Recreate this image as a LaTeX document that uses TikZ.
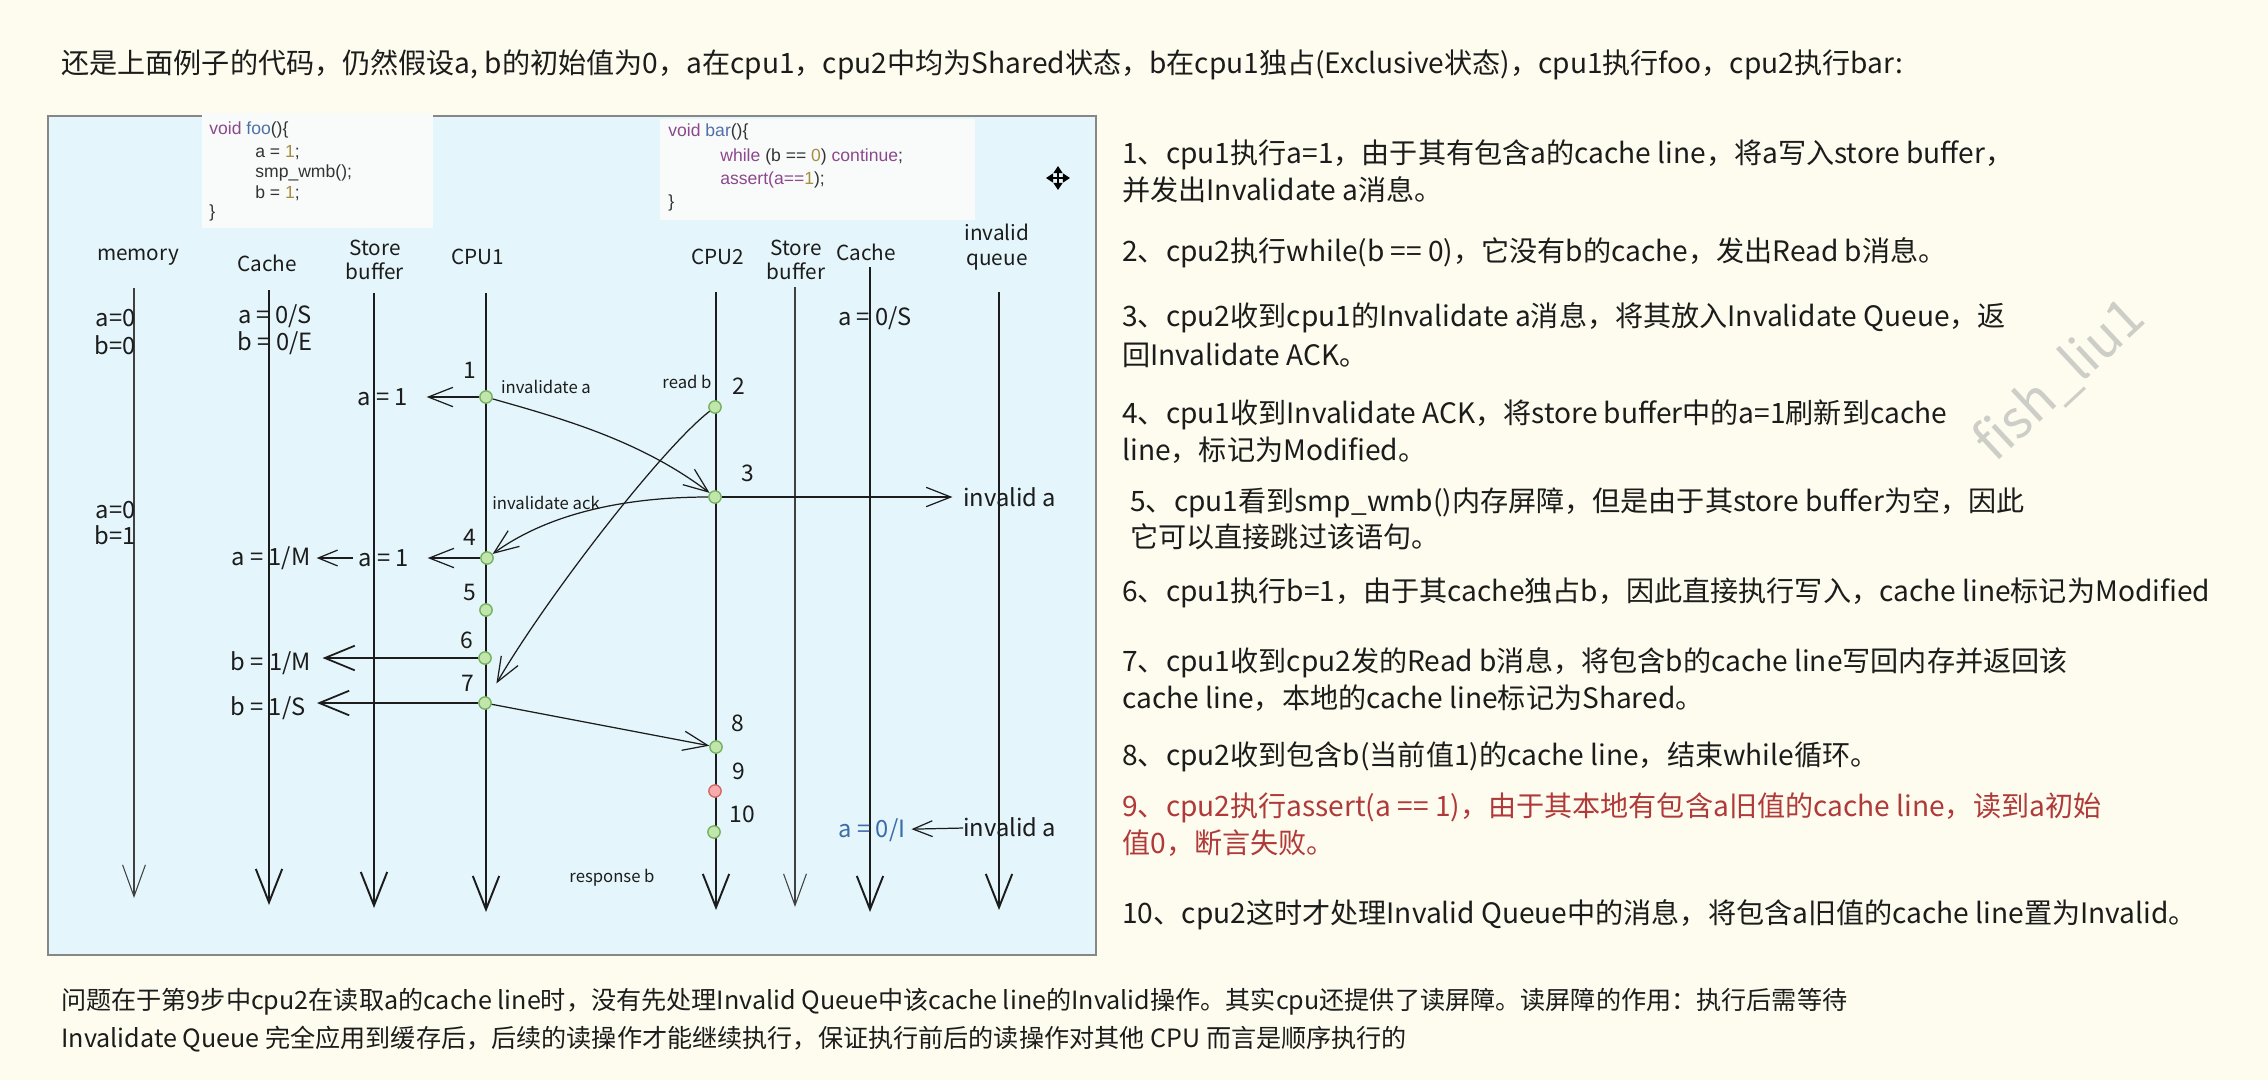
\documentclass[tikz,border=0pt]{standalone}
\usepackage{fontspec}
\setmainfont{Noto Sans CJK SC}
\newfontfamily\codefont{Liberation Sans}
\usetikzlibrary{arrows.meta,positioning,calc}

\definecolor{pagebg}{RGB}{254,252,238}
\definecolor{boardbg}{RGB}{228,246,251}
\definecolor{boardline}{RGB}{135,135,135}
\definecolor{codebg}{RGB}{249,251,251}
\definecolor{kwcol}{RGB}{140,72,140}
\definecolor{fncol}{RGB}{78,112,168}
\definecolor{numcol}{RGB}{165,142,60}
\definecolor{ink}{RGB}{28,28,28}
\definecolor{dotgreen}{RGB}{192,230,172}
\definecolor{dotgreenline}{RGB}{118,178,98}
\definecolor{dotred}{RGB}{246,172,172}
\definecolor{dotredline}{RGB}{214,104,104}
\definecolor{invalblue}{RGB}{58,108,168}
\definecolor{failred}{RGB}{176,58,58}
\definecolor{markgray}{RGB}{206,206,200}

\begin{document}
\begin{tikzpicture}[x=0.02cm,y=-0.02cm,
    every node/.style={text=ink},
    lane/.style={line width=1.1pt,draw=ink,-{Straight Barb[length=19pt,width=15pt,line width=1.1pt]}},
    thinlane/.style={line width=0.6pt,draw=black!75,-{Straight Barb[length=18pt,width=13pt,line width=0.6pt]}},
    msg/.style={line width=0.7pt,draw=ink,-{Straight Barb[length=14pt,width=11pt,line width=0.7pt]}},
    shortmsg/.style={line width=0.7pt,draw=ink,-{Straight Barb[length=11pt,width=9pt,line width=0.7pt]}},
    boldmsg/.style={line width=1.5pt,draw=ink,-{Straight Barb[length=17pt,width=14pt,line width=1pt]}},
    evdot/.style={circle,draw=dotgreenline,fill=dotgreen,line width=0.8pt,inner sep=0pt,minimum size=7pt},
    faildot/.style={evdot,draw=dotredline,fill=dotred},
    head/.style={font=\fontsize{11.8}{14}\selectfont,align=center},
    val/.style={font=\fontsize{13.5}{15}\selectfont},
    tag/.style={font=\fontsize{9.5}{11}\selectfont},
    stepno/.style={font=\fontsize{13}{15}\selectfont},
    code/.style={font=\codefont\fontsize{10}{12}\selectfont,anchor=west,inner sep=0pt,text=black!80},
    note/.style={font=\fontsize{16}{20}\selectfont,anchor=west,inner sep=0pt},
    outro/.style={font=\fontsize{14.3}{18}\selectfont,anchor=west,inner sep=0pt}]

% page and board
\fill[pagebg] (0,0) rectangle (2268,1080);
\filldraw[fill=boardbg,draw=boardline,line width=1pt] (48,116) rectangle (1096,955);

% code snippets
\fill[codebg] (202,113) rectangle (433,228);
\node[code] (fooHead) at (209,130) {\textcolor{kwcol}{void} \textcolor{fncol}{foo}()\{};
\node[code] (fooA) at (255,153) {a = \textcolor{numcol}{1};};
\node[code] (fooWmb) at (255,173) {smp\_wmb();};
\node[code] (fooB) at (255,193) {b = \textcolor{numcol}{1};};
\node[code] (fooEnd) at (209,213) {\}};

\fill[codebg] (660,119) rectangle (975,220);
\node[code] (barHead) at (668,132) {\textcolor{kwcol}{void} \textcolor{fncol}{bar}()\{};
\node[code] (barWhile) at (720,157) {\textcolor{kwcol}{while} (b == \textcolor{numcol}{0}) \textcolor{kwcol}{continue};};
\node[code] (barAssert) at (720,180) {\textcolor{kwcol}{assert(a==}\textcolor{numcol}{1});};
\node[code] (barEnd) at (668,203) {\}};

% move cursor
\draw[line width=1.1pt,{Triangle[length=4pt,width=5pt]}-{Triangle[length=4pt,width=5pt]}] (1046,178) -- (1070,178);
\draw[line width=1.1pt,{Triangle[length=4pt,width=5pt]}-{Triangle[length=4pt,width=5pt]}] (1058,166) -- (1058,190);

% lane headers
\node[head] (hMem) at (138,257) {memory};
\node[head] (hCacheA) at (267,263) {Cache};
\node[head] (hStoreA) at (375,260) {Store\\buffer};
\node[head] (hCpuA) at (478,257) {CPU1};
\node[head] (hCpuB) at (718,257) {CPU2};
\node[head] (hStoreB) at (796,260) {Store\\buffer};
\node[head] (hCacheB) at (866,252) {Cache};
\node[head] (hQueue) at (997,247) {invalid\\queue};

% lanes
\foreach \lx/\ty/\by/\ln/\ls in {134/288/898/mem/thinlane, 269/290/905/cacheA/lane,
    374/293/908/storeA/lane, 486/293/912/cpuA/lane, 716/292/910/cpuB/lane,
    795/287/907/storeB/thinlane, 870/267/912/cacheB/lane, 999/292/910/queue/lane}{
  \coordinate (\ln top) at (\lx,\ty);
  \coordinate (\ln bot) at (\lx,\by);
  \draw[\ls] (\ln top) -- (\ln bot);
}

% memory and cache values
\node[val,anchor=east,inner sep=0pt] (mA0) at (136,318) {a=0};
\node[val,anchor=east,inner sep=0pt] (mB0) at (136,345) {b=0};
\node[val,anchor=east,inner sep=0pt] (mA1) at (136,510) {a=0};
\node[val,anchor=east,inner sep=0pt] (mB1) at (136,535) {b=1};
\node[val] (cA0) at (275,316) {a = 0/S};
\node[val] (cB0) at (275,343) {b = 0/E};
\node[val] (ccA0) at (875,318) {a = 0/S};

% events on the cpu lanes
\node[evdot] (d1) at (486,397) {};
\node[evdot] (d2) at (715,407) {};
\node[evdot] (d3) at (715,497) {};
\node[evdot] (d4) at (487,558) {};
\node[evdot] (d5) at (486,610) {};
\node[evdot] (d6) at (485,658) {};
\node[evdot] (d7) at (485,703) {};
\node[evdot] (d8) at (716,747) {};
\node[faildot] (d9) at (715,791) {};
\node[evdot] (d10) at (714,832) {};

\node[stepno] (n1) at (470,370) {1};
\node[stepno] (n2) at (739,386) {2};
\node[stepno] (n3) at (748,473) {3};
\node[stepno] (n4) at (470,537) {4};
\node[stepno] (n5) at (470,592) {5};
\node[stepno] (n6) at (467,640) {6};
\node[stepno] (n7) at (468,683) {7};
\node[stepno] (n8) at (738,723) {8};
\node[stepno] (n9) at (739,771) {9};
\node[stepno] (n10) at (742,814) {10};

% message labels
\node[tag] (tInvA) at (546,387) {invalidate a};
\node[tag] (tReadB) at (687,382) {read b};
\node[tag] (tAck) at (546,503) {invalidate ack};
\node[tag] (tResp) at (612,878) {response b};
\node[val,anchor=west,inner sep=0pt] (qA) at (963,497) {invalid a};
\node[val,anchor=west,inner sep=0pt] (qA2) at (963,827) {invalid a};

% store buffer and cache results
\node[val] (sA1) at (383,397) {a = 1};
\node[val] (sA2) at (384,558) {a = 1};
\node[val] (cA1) at (271,558) {a = 1/M};
\node[val] (cB1) at (271,663) {b = 1/M};
\node[val] (cB2) at (268,708) {b = 1/S};
\node[val,text=invalblue] (ccA1) at (872,830) {a = 0/I};

% messages
\draw[msg,shorten >=7pt] (d1) -- (sA1);
\draw[msg,shorten >=7pt] (d4) -- (sA2);
\draw[shortmsg] (sA2) -- (cA1);
\draw[boldmsg,shorten >=3pt] (d6) -- (cB1.east |- d6);
\draw[boldmsg,shorten >=3pt] (d7) -- (cB2.east |- d7);
\draw[msg] (d1) .. controls (560,418) and (640,440) .. (d3);
\draw[msg,shorten >=9pt] (d2) .. controls (660,450) and (545,600) .. (d7);
\draw[msg] (d3) .. controls (650,497) and (560,505) .. (d4);
\draw[msg,shorten >=6pt] (d3) -- (qA);
\draw[msg] (d7) -- (d8);
\draw[shortmsg] (qA2) -- (ccA1);

% explanation
\node[note] (intro) at (61,65) {还是上面例子的代码，仍然假设a, b的初始值为0，a在cpu1，cpu2中均为Shared状态，b在cpu1独占(Exclusive状态)，cpu1执行foo，cpu2执行bar:};
\node[note] (s1a) at (1122,155) {1、cpu1执行a=1，由于其有包含a的cache line，将a写入store buffer，};
\node[note] (s1b) at (1122,190) {并发出Invalidate a消息。};
\node[note] (s2) at (1122,253) {2、cpu2执行while(b == 0)，它没有b的cache，发出Read b消息。};
\node[note] (s3a) at (1122,318) {3、cpu2收到cpu1的Invalidate a消息，将其放入Invalidate Queue，返};
\node[note] (s3b) at (1122,355) {回Invalidate ACK。};
\node[note] (s4a) at (1122,415) {4、cpu1收到Invalidate ACK，将store buffer中的a=1刷新到cache};
\node[note] (s4b) at (1122,450) {line，标记为Modified。};
\node[note] (s5a) at (1130,503) {5、cpu1看到smp\_wmb()内存屏障，但是由于其store buffer为空，因此};
\node[note] (s5b) at (1130,537) {它可以直接跳过该语句。};
\node[note] (s6) at (1122,593) {6、cpu1执行b=1，由于其cache独占b，因此直接执行写入，cache line标记为Modified};
\node[note] (s7a) at (1122,663) {7、cpu1收到cpu2发的Read b消息，将包含b的cache line写回内存并返回该};
\node[note] (s7b) at (1122,698) {cache line，本地的cache line标记为Shared。};
\node[note] (s8) at (1122,757) {8、cpu2收到包含b(当前值1)的cache line，结束while循环。};
\node[note,text=failred] (s9a) at (1122,808) {9、cpu2执行assert(a == 1)，由于其本地有包含a旧值的cache line，读到a初始};
\node[note,text=failred] (s9b) at (1122,843) {值0，断言失败。};
\node[note] (s10) at (1122,915) {10、cpu2这时才处理Invalid Queue中的消息，将包含a旧值的cache line置为Invalid。};

\node[outro] (outroA) at (61,1002) {问题在于第9步中cpu2在读取a的cache line时，没有先处理Invalid Queue中该cache line的Invalid操作。其实cpu还提供了读屏障。读屏障的作用：执行后需等待};
\node[outro] (outroB) at (61,1039) {Invalidate Queue 完全应用到缓存后，后续的读操作才能继续执行，保证执行前后的读操作对其他 CPU 而言是顺序执行的};

% watermark
\node[font=\fontsize{30}{34}\selectfont,text=markgray,rotate=43] (wm) at (2060,380) {fish\_liu1};
\end{tikzpicture}
\end{document}
